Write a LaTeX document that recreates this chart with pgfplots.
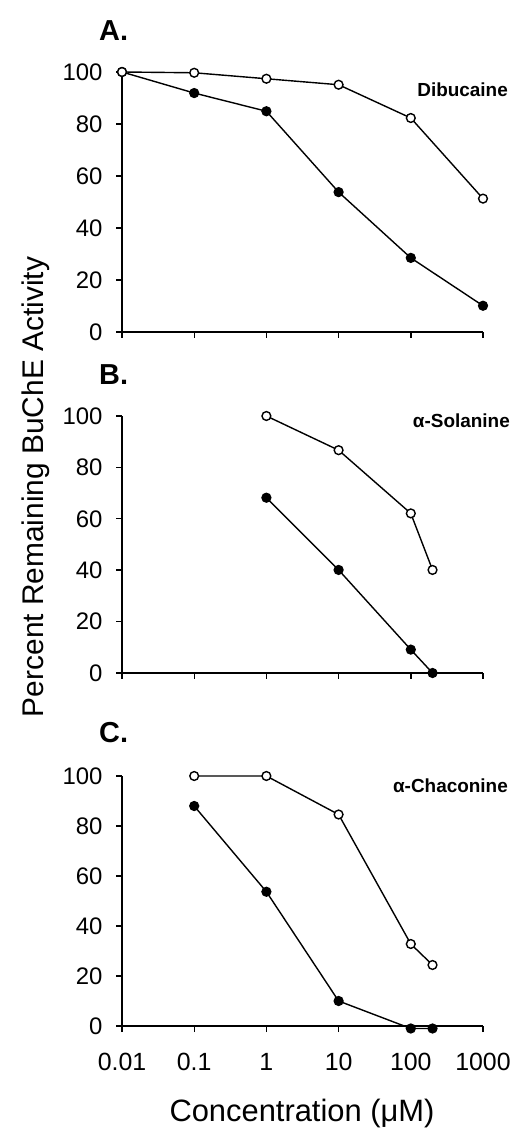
\documentclass[border=0pt]{standalone}
\usepackage{fontspec}
\setmainfont{Liberation Sans}
\usepackage{pgfplots}
\pgfplotsset{compat=1.18}
\pgfplotsset{
  panel/.style={
    scale only axis, width=361bp, xmin=0.01, xmax=1000,
    ymin=0, ymax=100, ytick={0,20,40,60,80,100},
    xtick={0.01,0.1,1,10,100,1000}, xminorticks=false,
    axis x line*=bottom, axis y line*=left,
    axis line style={line width=1.7bp, -},
    tick align=outside, major tick length=6bp,
    every tick/.style={line width=1.4bp, black},
    clip=false,
    yticklabel style={font=\fontsize{24}{24}\selectfont, anchor=east, xshift=-10bp},
    xticklabel style={font=\fontsize{25}{25}\selectfont, anchor=base, yshift=-38bp},
    anchor=south west,
  },
  filled/.style={black, line width=1.4bp, mark=*, mark size=4.4bp, mark options={fill=black, solid}},
  open/.style={black, line width=1.4bp, mark=*, mark size=4.4bp, mark options={fill=white, solid}},
}
\begin{document}
\begin{tikzpicture}
\path (0,0) rectangle (514bp,1129bp);
% Panel A
\begin{semilogxaxis}[panel, at={(122bp,797bp)}, height=260bp, xticklabels={}, /pgf/number format/assume math mode=true]
\addplot[filled] coordinates {(0.01,100) (0.1,91.9) (1,84.9) (10,53.8) (100,28.5) (1000,10.1)};
\addplot[open] coordinates {(0.01,100) (0.1,99.7) (1,97.4) (10,95.1) (100,82.3) (1000,51.3)};
\end{semilogxaxis}
% Panel B
\begin{semilogxaxis}[panel, at={(122bp,456bp)}, height=257bp, xticklabels={}, /pgf/number format/assume math mode=true]
\addplot[filled] coordinates {(1,68.2) (10,40.1) (100,9.1) (200,0)};
\addplot[open] coordinates {(1,100) (10,86.7) (100,62.1) (200,40.1)};
\end{semilogxaxis}
% Panel C
\begin{semilogxaxis}[panel, at={(122bp,103bp)}, height=250bp, xticklabels={0.01,0.1,1,10,100,1000}, /pgf/number format/assume math mode=true]
\addplot[filled] coordinates {(0.1,88) (1,53.7) (10,10) (100,-1) (200,-1)};
\addplot[open] coordinates {(0.1,100) (1,100) (10,84.6) (100,32.8) (200,24.4)};
\end{semilogxaxis}
% Panel letters
\node[anchor=base west, font=\fontsize{29}{29}\selectfont\bfseries, inner sep=0pt] at (99bp,1088bp) {A.};
\node[anchor=base west, font=\fontsize{29}{29}\selectfont\bfseries, inner sep=0pt] at (99bp,744bp) {B.};
\node[anchor=base west, font=\fontsize{29}{29}\selectfont\bfseries, inner sep=0pt] at (99bp,386bp) {C.};
% Compound names
\node[anchor=base east, font=\fontsize{19}{19}\selectfont\bfseries, inner sep=0pt] at (508bp,1032bp) {Dibucaine};
\node[anchor=base east, font=\fontsize{19}{19}\selectfont\bfseries, inner sep=0pt] at (510bp,701bp) {α-Solanine};
\node[anchor=base east, font=\fontsize{19}{19}\selectfont\bfseries, inner sep=0pt] at (508bp,336bp) {α-Chaconine};
% Axis titles
\node[rotate=90, anchor=base, font=\fontsize{30}{30}\selectfont, inner sep=0pt] at (43bp,642bp) {Percent Remaining BuChE Activity};
\node[anchor=base, font=\fontsize{31}{31}\selectfont, inner sep=0pt] at (302bp,8bp) {Concentration (μM)};
\end{tikzpicture}
\end{document}
